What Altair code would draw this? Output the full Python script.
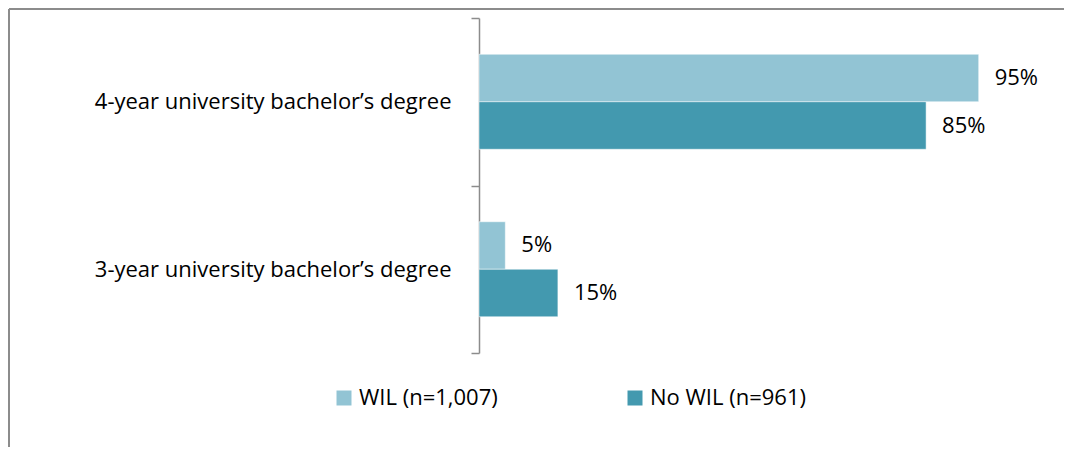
import altair as alt
import pandas as pd

categories = ["4-year university bachelor\u2019s degree", "3-year university bachelor\u2019s degree"]
series = ["WIL (n=1,007)", "No WIL (n=961)"]
wil_values = [95, 5]
nowil_values = [85, 15]
colors = ["#92C4D4", "#4399AF"]

rows = []
for c, a, b in zip(categories, wil_values, nowil_values):
    rows.append({"category": c, "series": series[0], "value": a})
    rows.append({"category": c, "series": series[1], "value": b})
df = pd.DataFrame(rows)

FONT = "Open Sans"
FS = 22

y_enc = alt.Y("category:N", sort=categories, title=None,
              scale=alt.Scale(paddingInner=0, paddingOuter=0),
              axis=alt.Axis(tickBand="extent", domainColor="#8c8c8c", tickColor="#8c8c8c",
                            domainWidth=1.5, tickWidth=1.5, tickSize=8,
                            labelFontSize=FS, labelFont=FONT, labelColor="#000000",
                            labelPadding=20, labelLimit=500))
yoff = alt.YOffset("series:N", sort=series,
                   scale=alt.Scale(paddingInner=0, paddingOuter=0.763))
x_enc = alt.X("value:Q", scale=alt.Scale(domain=[0, 100]), axis=None)

bars = alt.Chart(df).mark_bar(stroke="white", strokeWidth=0.5).encode(
    y=y_enc, yOffset=yoff, x=x_enc,
    color=alt.Color("series:N", sort=series,
                    scale=alt.Scale(domain=series, range=colors),
                    legend=alt.Legend(title=None, orient="none", direction="horizontal",
                                      legendX=-146, legendY=369,
                                      symbolType="square", symbolSize=225,
                                      symbolStrokeWidth=0, labelFontSize=FS,
                                      labelFont=FONT, labelColor="#000000",
                                      columnPadding=126, padding=0, labelOffset=4,
                                      labelLimit=400)),
)

labels = alt.Chart(df).transform_calculate(
    label="datum.value + '%'"
).mark_text(align="left", baseline="middle", dx=16, fontSize=FS, font=FONT, color="#000000").encode(
    y=alt.Y("category:N", sort=categories), yOffset=yoff, x=x_enc, text="label:N"
)

frame_left = alt.Chart(alt.Data(values=[{}])).mark_rule(color="#8c8c8c", strokeWidth=2).encode(
    x=alt.value(-470), y=alt.value(-9), y2=alt.value(430)
)
frame_top = alt.Chart(alt.Data(values=[{}])).mark_rule(color="#8c8c8c", strokeWidth=2).encode(
    x=alt.value(-470), x2=alt.value(590), y=alt.value(-9)
)

chart = alt.layer(bars, labels, frame_left, frame_top).properties(
    width=526, height=335,
    padding={"left": 471, "top": 10, "right": 59, "bottom": 94},
    autosize=alt.AutoSizeParams(type="none"),
).configure(font=FONT).configure_view(strokeWidth=0, stroke=None)

chart.save("out.html", embed_options={"renderer": "svg", "actions": False})
